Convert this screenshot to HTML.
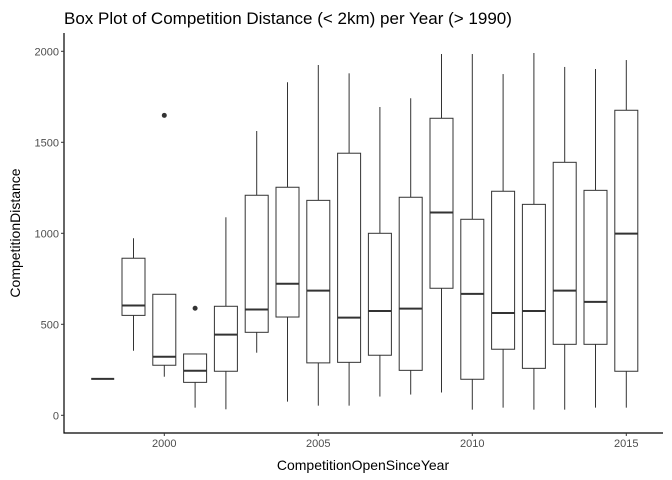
<!DOCTYPE html>
<html><head><meta charset="utf-8"><style>
body{margin:0;background:#fff}
svg{display:block;font-family:"Liberation Sans",Arial,sans-serif}
</style></head><body>
<svg id="chart" width="672" height="480">
<text x="64" y="24" font-size="17" fill="#000">Box Plot of Competition Distance (&lt; 2km) per Year (&gt; 1990)</text>
<g id="plot"></g>
<text x="363" y="470" font-size="14" text-anchor="middle" fill="#000">CompetitionOpenSinceYear</text>
<text transform="translate(20,233) rotate(-90)" font-size="14" text-anchor="middle" fill="#000">CompetitionDistance</text>
</svg>
<script>
const years=[1998,1999,2000,2001,2002,2003,2004,2005,2006,2007,2008,2009,2010,2011,2012,2013,2014,2015];
const lowWhisker=[200,355,212,42,33,344,75,53,53,103,114,125,31,42,31,31,42,42];
const q1=[200,549,275,181,242,456,540,288,291,330,247,698,198,363,258,390,390,242];
const median=[200,603,322,245,443,581,723,685,537,573,586,1114,667,562,573,685,623,998];
const q3=[200,863,665,337,599,1209,1253,1181,1440,1000,1198,1632,1077,1231,1159,1390,1236,1676];
const highWhisker=[200,973,665,337,1088,1562,1830,1925,1879,1694,1742,1985,1985,1875,1991,1914,1903,1952];
const outlierYears=[2000,2001];
const outlierValues=[1648,588];
const yTicks=[0,500,1000,1500,2000];
const xTicks=[2000,2005,2010,2015];

const ns="http://www.w3.org/2000/svg";
const g=document.getElementById('plot');
const X=v=>164.3+(v-2000)*30.8;
const Y=v=>415.3-v*0.182;
const L=64, B=433, R=663;
function mk(t,a){const e=document.createElementNS(ns,t);for(const k in a)e.setAttribute(k,a[k]);g.appendChild(e);return e;}
const ax=mk('path',{d:`M${L},33V${B}H${R}`,stroke:'#000',fill:'none','stroke-width':1.2});


yTicks.forEach(v=>{
  const t=mk('line',{x1:L-3,x2:L,y1:Y(v),y2:Y(v),stroke:'#333'});
  
  
  const l=mk('text',{x:L-5,y:Y(v)+4,'font-size':11,'text-anchor':'end',fill:'#4d4d4d'});
  l.textContent=v;
  
  
});
xTicks.forEach(v=>{
  const t=mk('line',{x1:X(v),x2:X(v),y1:B,y2:B+3,stroke:'#333'});
  
  
  const l=mk('text',{x:X(v),y:B+14,'font-size':11,'text-anchor':'middle',fill:'#4d4d4d'});
  l.textContent=v;
  
  
});
const hw=11.5;
years.forEach((yr,i)=>{
  const cx=X(yr);
  const w1=mk('line',{x1:cx,x2:cx,y1:Y(highWhisker[i]),y2:Y(q3[i]),stroke:'#333','stroke-width':1});
  
  
  const w2=mk('line',{x1:cx,x2:cx,y1:Y(q1[i]),y2:Y(lowWhisker[i]),stroke:'#333','stroke-width':1});
  
  
  const b=mk('rect',{x:cx-hw,y:Y(q3[i]),width:hw*2,height:Math.max(0,Y(q1[i])-Y(q3[i])),fill:'#fff',stroke:'#333','stroke-width':1});
  
  
  const m=mk('line',{x1:cx-hw,x2:cx+hw,y1:Y(median[i]),y2:Y(median[i]),stroke:'#333','stroke-width':2});
  
  
});
outlierYears.forEach((yr,i)=>{
  const c=mk('circle',{cx:X(yr),cy:Y(outlierValues[i]),r:2.5,fill:'#333'});
  
  
});
</script>
</body></html>
